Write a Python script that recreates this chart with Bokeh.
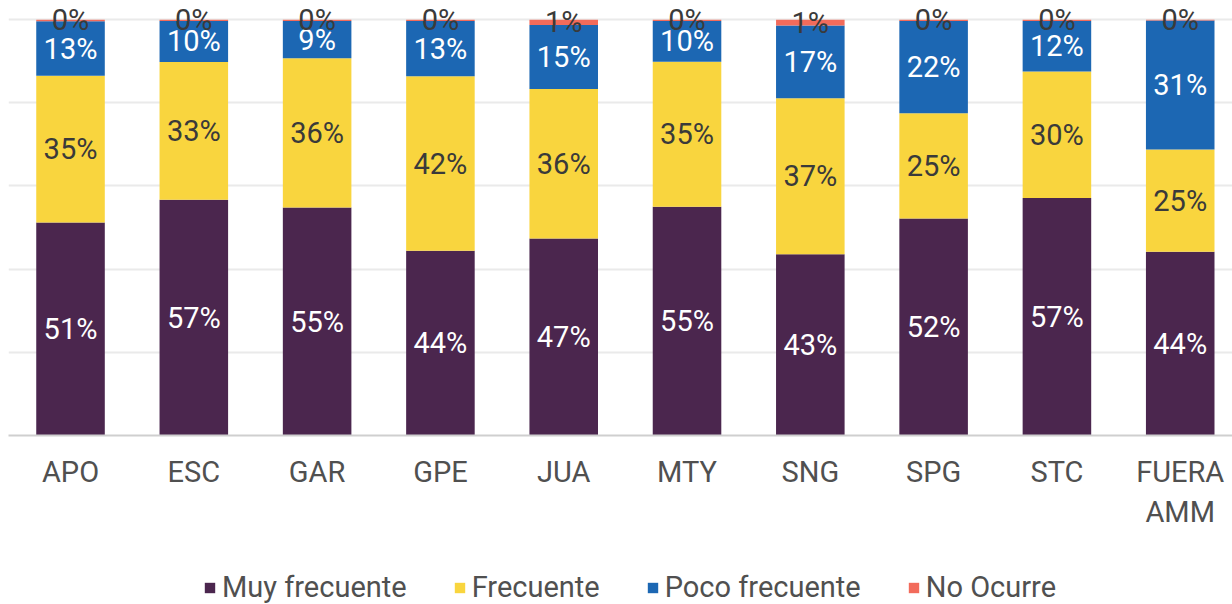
from bokeh.plotting import figure
from bokeh.layouts import column
from bokeh.models import ColumnDataSource, Range1d, FixedTicker, Legend
from bokeh.core.properties import value
from bokeh.embed import file_html
from bokeh.resources import INLINE

categories = ["APO", "ESC", "GAR", "GPE", "JUA", "MTY", "SNG", "SPG", "STC", "FUERA\nAMM"]
series_names = ["Muy frecuente", "Frecuente", "Poco frecuente", "No Ocurre"]
muy_frecuente = [51.2, 56.7, 54.8, 44.4, 47.4, 55.0, 43.4, 52.2, 57.1, 44.2]
frecuente = [35.3, 33.1, 35.9, 42.0, 35.9, 34.9, 37.4, 25.3, 30.4, 24.6]
poco_frecuente = [13.1, 9.9, 9.0, 13.3, 15.4, 9.8, 17.4, 22.2, 12.2, 31.0]
no_ocurre = [0.4, 0.3, 0.3, 0.3, 1.3, 0.3, 1.4, 0.3, 0.3, 0.2]

colors = ["#4B264E", "#F9D53E", "#1C67B3", "#F26B5B"]
label_colors = ["#FFFFFF", "#3A3A3A", "#FFFFFF", "#3A3A3A"]
FONT = "Roboto"

raw = [muy_frecuente, frecuente, poco_frecuente, no_ocurre]
totals = [sum(col) for col in zip(*raw)]
shares = [[v / t * 100 for v, t in zip(s, totals)] for s in raw]

xs = list(range(len(categories)))
data = {"x": xs}
for name, s in zip(series_names, shares):
    data[name] = s
source = ColumnDataSource(data)

p = figure(frame_width=1224, frame_height=435, output_backend="svg", toolbar_location=None,
           x_range=Range1d(-0.503, 9.424), y_range=Range1d(0, 104.6),
           min_border_left=8, min_border_right=0, min_border_top=0, min_border_bottom=93)
p.outline_line_color = None

p.vbar_stack(series_names, x="x", width=0.556, color=colors, line_color=None, source=source)

# labels
cum = [0.0] * len(categories)
for s, raw_s, lc in zip(shares, raw, label_colors):
    ys = [c + v / 2 for c, v in zip(cum, s)]
    cum = [c + v for c, v in zip(cum, s)]
    texts = [f"{int(v + 0.5)}%" for v in raw_s]
    p.text(x=xs, y=ys, text=texts, text_align="center", text_baseline="middle",
           text_color=lc, text_font=value(FONT), text_font_size="29px")

p.yaxis.visible = False
p.ygrid.ticker = FixedTicker(ticks=[20, 40, 60, 80, 100])
p.ygrid.grid_line_color = "#EAEAEA"
p.ygrid.grid_line_width = 2
p.xgrid.visible = False

ax = p.xaxis[0]
ax.ticker = FixedTicker(ticks=xs)
ax.major_label_overrides = {i: c for i, c in enumerate(categories)}
ax.axis_line_color = "#CFCFCF"
ax.axis_line_width = 2
ax.major_tick_line_color = None
ax.minor_tick_line_color = None
ax.major_label_text_font = FONT
ax.major_label_text_font_size = "29px"
ax.major_label_text_color = "#505050"
ax.major_label_standoff = 13

# legend in its own strip below the chart (its bars lie far outside this strip's view)
pl = figure(width=1232, height=72, output_backend="svg", toolbar_location=None,
            x_range=Range1d(-40, -39), y_range=Range1d(-2, -1),
            min_border_left=0, min_border_right=0, min_border_top=0, min_border_bottom=0)
pl.axis.visible = False
pl.grid.visible = False
pl.outline_line_color = None
legend_renderers = pl.vbar_stack(series_names, x="x", width=0.556, color=colors,
                                 line_color=None, source=source)
legend = Legend(items=[(n, [r]) for n, r in zip(series_names, legend_renderers)],
                orientation="horizontal", location=(195, 0))
legend.label_text_font = FONT
legend.label_text_font_size = "29px"
legend.label_text_color = "#505050"
legend.glyph_width = 13
legend.glyph_height = 13
legend.label_standoff = 6
legend.spacing = 46
legend.border_line_color = None
legend.background_fill_alpha = 0
legend.padding = 0
legend.margin = 0
pl.add_layout(legend, "center")

layout = column(p, pl, spacing=0)
open("out.html", "w").write(file_html(layout, INLINE))
